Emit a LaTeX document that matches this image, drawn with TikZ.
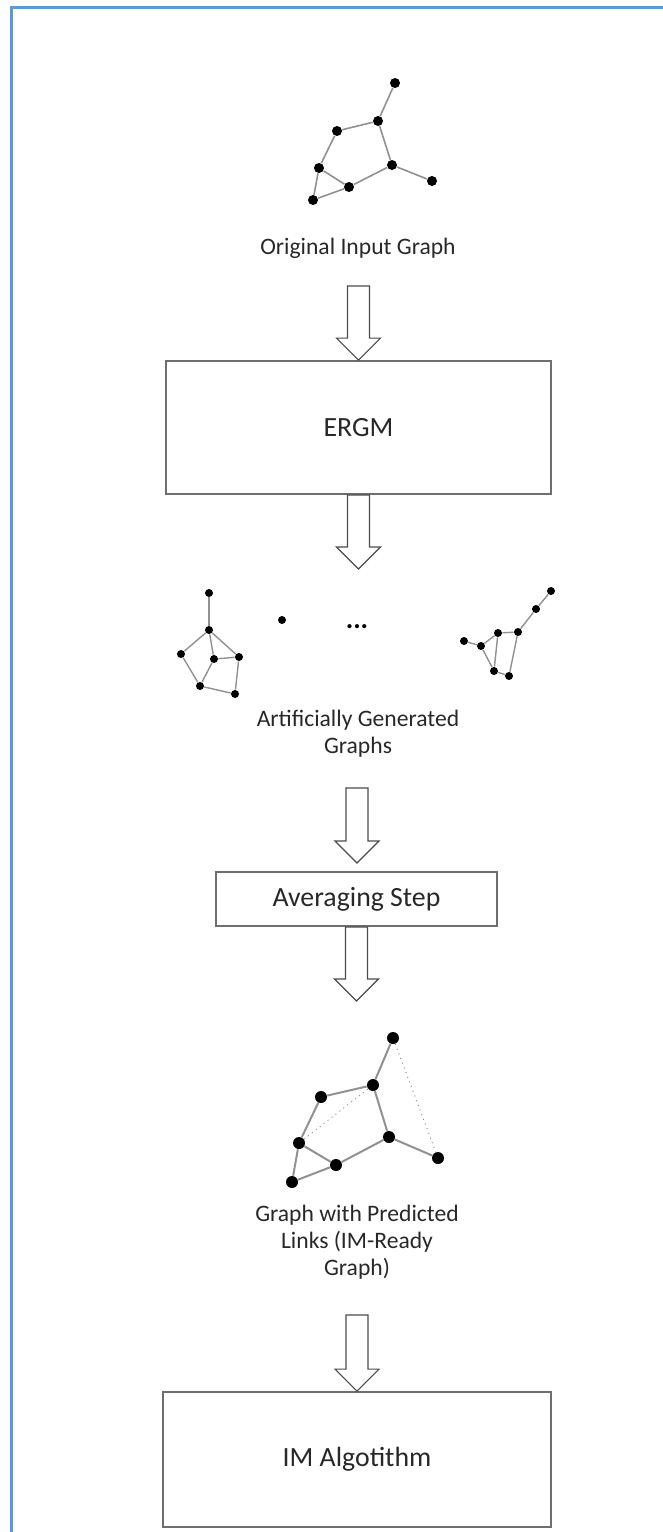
\documentclass[tikz,border=0pt]{standalone}
\usepackage{fontspec}
\setmainfont{Carlito}
\usetikzlibrary{calc}

\definecolor{frameblue}{RGB}{91,155,213}
\definecolor{boxgray}{RGB}{110,110,110}
\definecolor{edgegray}{RGB}{145,145,145}
\definecolor{txtgray}{RGB}{40,40,40}

\tikzset{
  vtx/.style={shape=circle, fill=black, inner sep=0pt, minimum size=5pt},
  smallvtx/.style={vtx, minimum size=4pt},
  bigvtx/.style={vtx, minimum size=6pt},
  edge/.style={draw=edgegray, line width=0.8pt},
  predicted/.style={draw=edgegray, line width=0.5pt, dotted},
  caption/.style={text=txtgray, font=\fontsize{11.8}{13.5}\selectfont, align=center},
  stagebox/.style={draw=boxgray, line width=0.9pt, text=txtgray, font=\fontsize{13.9}{16}\selectfont, inner sep=0pt},
  blockarrow/.style={draw=black!70, line width=0.6pt, fill=white, line join=miter}
}

\newcommand\flowarrow[2]{%
  \draw[blockarrow] let \p1=(#1), \p2=(#2) in
    (\x1-5.5pt,\y1) -- (\x1+5.5pt,\y1) -- (\x1+5.5pt,\y2+11pt) -- (\x1+11pt,\y2+11pt)
    -- (\x1,\y2) -- (\x1-11pt,\y2+11pt) -- (\x1-5.5pt,\y2+11pt) -- cycle;}

\begin{document}
\begin{tikzpicture}[x=0.5pt, y=-0.5pt]
  \useasboundingbox (0,0) rectangle (663,1532);
  \draw[frameblue, line width=1.5pt] (11,1532) -- (11,7) -- (663,7);

  % original input graph
  \foreach \n/\x/\y in {a/395/83, b/378/121, c/337/131, d/319/168, e/392/165, f/432/181, g/349/187, h/313/200}
    \node[vtx] (\n) at (\x,\y) {};
  \foreach \s/\t in {a/b, b/c, c/d, b/e, e/f, e/g, d/g, d/h, h/g}
    \draw[edge] (\s) -- (\t);
  \node[caption] (inlabel) at (358,248) {Original Input Graph};

  \node[stagebox, minimum width=192.5pt, minimum height=66.5pt] (ergm) at (358.5,427.5) {ERGM};
  \coordinate (arrA) at (358.5,286);
  \flowarrow{arrA}{ergm.north}

  % artificially generated graphs
  \coordinate (arrB) at (358.5,569);
  \flowarrow{ergm.south}{arrB}
  \foreach \n/\x/\y in {p1/209/593, p2/209/630, p3/181/654, p4/214/659, p5/239/657, p6/200/686, p7/235/694,
                        iso/282/620,
                        q1/551/591, q2/536/609, q3/518/632, q4/498/633, q5/481/646, q6/464/641, q7/494/671, q8/509/676}
    \node[smallvtx] (\n) at (\x,\y) {};
  \foreach \s/\t in {p1/p2, p2/p3, p2/p4, p2/p5, p4/p5, p3/p6, p4/p6, p6/p7, p5/p7,
                     q1/q2, q2/q3, q3/q4, q4/q5, q5/q6, q5/q7, q4/q7, q3/q8, q7/q8}
    \draw[edge, line width=0.7pt] (\s) -- (\t);
  \node[text=black, font=\fontsize{14}{16}\selectfont] (dots) at (357,627) {\textbf{...}};
  \node[caption] (genlabel) at (358,733.5) {Artificially Generated\\Graphs};

  \node[stagebox, minimum width=140.5pt, minimum height=27pt] (avg) at (356.5,899) {Averaging Step};
  \coordinate (arrC) at (357,788);
  \coordinate (arrCtip) at (357,863);
  \flowarrow{arrC}{arrCtip}

  % graph with predicted links
  \coordinate (arrD) at (357,1001);
  \flowarrow{avg.south}{arrD}
  \foreach \n/\x/\y in {r1/393/1038, r2/373/1085, r3/321/1097, r4/299/1143, r5/389/1137, r6/438/1158, r7/336/1165, r8/292/1182}
    \node[bigvtx] (\n) at (\x,\y) {};
  \foreach \s/\t in {r1/r2, r2/r3, r3/r4, r2/r5, r5/r6, r5/r7, r4/r7, r4/r8, r8/r7}
    \draw[edge, line width=1pt] (\s) -- (\t);
  \draw[predicted] (r4) -- (r2);
  \draw[predicted] (r1) -- (r6);
  \node[caption] (imlabel) at (357,1242.5) {Graph with Predicted\\Links (IM-Ready\\Graph)};

  \node[stagebox, minimum width=194pt, minimum height=67.5pt] (im) at (357,1459.5) {IM Algotithm};
  \coordinate (arrE) at (357,1315);
  \flowarrow{arrE}{im.north}
\end{tikzpicture}
\end{document}
